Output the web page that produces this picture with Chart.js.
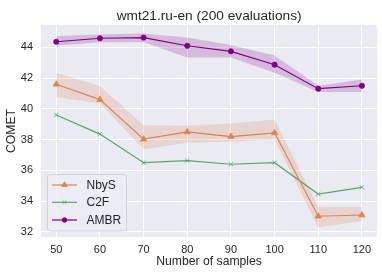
<!DOCTYPE html>
<html>
<head>
<meta charset="utf-8">
<script src="https://cdn.jsdelivr.net/npm/chart.js@4"></script>
<style>
  html, body { margin: 0; padding: 0; background: #fff; }
  #wrap { width: 382px; height: 273px; }
</style>
</head>
<body>
<div id="wrap"><canvas id="chart" width="382" height="273"></canvas></div>
<script>
const samples = [50, 60, 70, 80, 90, 100, 110, 120];
const xTicks = [50, 60, 70, 80, 90, 100, 110, 120];
const yTicks = [32, 34, 36, 38, 40, 42, 44];
const titleText = 'wmt21.ru-en (200 evaluations)';

const nbysMean = [41.6, 40.6, 38.03, 38.5, 38.2, 38.44, 33.02, 33.1];
const nbysHigh = [42.35, 41.48, 38.93, 38.9, 39.05, 39.3, 33.6, 33.6];
const nbysLow  = [40.75, 40.36, 37.37, 37.8, 37.86, 38.0, 32.3, 32.7];

const c2fMean = [39.6, 38.36, 36.5, 36.64, 36.4, 36.5, 34.46, 34.9];

const ambrMean = [44.36, 44.59, 44.63, 44.1, 43.74, 42.87, 41.31, 41.5];
const ambrHigh = [44.73, 44.84, 44.89, 44.63, 44.15, 43.46, 41.5, 41.9];
const ambrLow  = [44.1, 44.33, 44.33, 43.33, 43.33, 42.35, 41.1, 41.1];

const ORANGE = '#DD8452';
const GREEN = '#55A868';
const PURPLE = '#800080';
const FONT = '"Liberation Sans", Arial, sans-serif';

const pts = arr => arr.map((v, i) => ({ x: samples[i], y: v }));

function band(data, color, fill) {
  return {
    data: pts(data), borderWidth: 0, pointRadius: 0, borderColor: 'transparent',
    backgroundColor: color, fill: fill, order: 2, isBand: true, tension: 0
  };
}
function line(label, data, color, style, r) {
  return {
    label, data: pts(data), borderColor: color, backgroundColor: color,
    borderWidth: 1.2, pointStyle: style, pointRadius: r, pointBorderWidth: 0.8,
    pointBackgroundColor: color, pointBorderColor: color, fill: false, order: 1, tension: 0
  };
}

// title centred over the plot area, like matplotlib
const plotTitle = {
  id: 'plotTitle',
  afterDraw(chart) {
    const a = chart.chartArea, ctx = chart.ctx;
    ctx.save();
    ctx.fillStyle = '#262626';
    ctx.font = '13.7px ' + FONT;
    ctx.textAlign = 'center';
    ctx.textBaseline = 'middle';
    ctx.fillText(titleText, (a.left + a.right) / 2, 16);
    ctx.restore();
  }
};

// legend drawn inside the plot, matplotlib style
const innerLegend = {
  id: 'innerLegend',
  afterDraw(chart) {
    const ctx = chart.ctx;
    const items = chart.data.datasets.filter(d => !d.isBand);
    const x0 = 47.5, y0 = 174.5, w = 79, h = 56.5;
    ctx.save();
    ctx.beginPath();
    ctx.roundRect(x0, y0, w, h, 3);
    ctx.fillStyle = 'rgba(236,236,244,0.85)';
    ctx.fill();
    ctx.strokeStyle = '#d2d2da';
    ctx.lineWidth = 1;
    ctx.stroke();
    const rows = [185, 202.3, 220];
    items.forEach((d, i) => {
      const y = rows[i];
      ctx.strokeStyle = d.borderColor;
      ctx.fillStyle = d.borderColor;
      ctx.lineWidth = 1.2;
      ctx.beginPath();
      ctx.moveTo(52, y);
      ctx.lineTo(77, y);
      ctx.stroke();
      ctx.lineWidth = 0.8;
      Chart.helpers.drawPoint(ctx, {
        pointStyle: d.pointStyle, radius: d.pointRadius * 0.9, borderWidth: 0.8, rotation: 0
      }, 64.5, y);
      ctx.fillStyle = '#262626';
      ctx.font = '12px ' + FONT;
      ctx.textBaseline = 'middle';
      ctx.fillText(d.label, 86.5, y + 0.5);
    });
    ctx.restore();
  }
};

const bg = {
  id: 'bg',
  beforeDraw(chart) {
    const a = chart.chartArea, ctx = chart.ctx;
    ctx.save();
    ctx.fillStyle = '#EAEAF2';
    ctx.fillRect(a.left, a.top, a.right - a.left, a.bottom - a.top);
    ctx.restore();
  }
};

new Chart(document.getElementById('chart'), {
  type: 'line',
  data: {
    datasets: [
      band(nbysHigh, 'rgba(221,132,82,0.22)', '+1'),
      band(nbysLow, 'rgba(221,132,82,0.22)', false),
      band(ambrHigh, 'rgba(128,0,128,0.2)', '+1'),
      band(ambrLow, 'rgba(128,0,128,0.2)', false),
      line('NbyS', nbysMean, ORANGE, 'triangle', 3.6),
      line('C2F', c2fMean, GREEN, 'crossRot', 3),
      line('AMBR', ambrMean, PURPLE, 'circle', 2.6)
    ]
  },
  options: {
    responsive: false,
    animation: false,
    layout: { padding: { left: 0, right: 1, top: 25, bottom: 0 } },
    plugins: {
      legend: { display: false },
      tooltip: { enabled: false },
      title: { display: false }
    },
    scales: {
      x: {
        type: 'linear', min: 46.5, max: 123.5,
        afterBuildTicks: s => { s.ticks = xTicks.map(v => ({ value: v })); },
        afterFit: s => { s.height = 36; },
        grid: { color: '#ffffff', lineWidth: 1, drawTicks: false },
        border: { display: false },
        ticks: { color: '#262626', padding: 6, font: { family: FONT, size: 11 } },
        title: {
          display: true, text: 'Number of samples', color: '#262626',
          font: { family: FONT, size: 12.2 }, padding: { top: 0, bottom: 4 }
        }
      },
      y: {
        min: 31.67, max: 45.45,
        afterBuildTicks: s => { s.ticks = yTicks.map(v => ({ value: v })); },
        afterFit: s => { s.width = 41; },
        grid: { color: '#ffffff', lineWidth: 1, drawTicks: false },
        border: { display: false },
        ticks: { color: '#262626', padding: 8, font: { family: FONT, size: 11 } },
        title: {
          display: true, text: 'COMET', color: '#262626',
          font: { family: FONT, size: 12.2 }, padding: { top: 4, bottom: 0 }
        }
      }
    }
  },
  plugins: [bg, innerLegend, plotTitle]
});
</script>
</body>
</html>
